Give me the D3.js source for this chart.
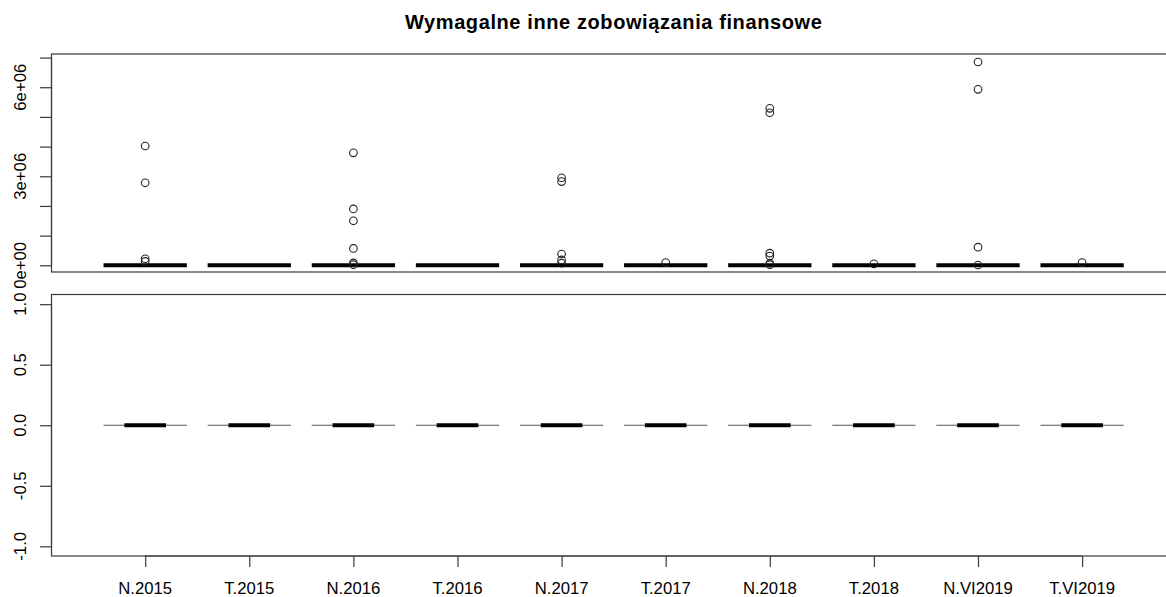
<!DOCTYPE html>
<html>
<head>
<meta charset="utf-8">
<script src="https://cdn.jsdelivr.net/npm/d3@7"></script>
<style>
  html, body { margin: 0; padding: 0; background: #fff; }
  svg { display: block; font-family: "Liberation Sans", Arial, sans-serif; }
</style>
</head>
<body>
<svg id="chart" width="1166" height="597"></svg>
<script>
// Categories (period labels)
const categories = ["N.2015", "T.2015", "N.2016", "T.2016", "N.2017",
                    "T.2017", "N.2018", "T.2018", "N.VI2019", "T.VI2019"];

// Upper panel: box statistics per category (quartiles and whiskers all at zero)
const topQ1 = [0, 0, 0, 0, 0, 0, 0, 0, 0, 0];
const topMedian = [0, 0, 0, 0, 0, 0, 0, 0, 0, 0];
const topQ3 = [0, 0, 0, 0, 0, 0, 0, 0, 0, 0];

// Upper panel: outlying observations per category
const topOutliers = [
  [4020000, 2780000, 220000, 130000],
  [],
  [3790000, 1900000, 1500000, 570000, 80000, 20000],
  [],
  [2950000, 2820000, 380000, 180000, 70000],
  [90000],
  [5290000, 5140000, 410000, 310000, 70000, 20000],
  [50000],
  [6850000, 5930000, 610000, 10000],
  [90000]
];

// Lower panel: every category is constant zero
const bottomMedian = [0, 0, 0, 0, 0, 0, 0, 0, 0, 0];

// Axis ticks
const topTicks = [0, 1e6, 2e6, 3e6, 4e6, 5e6, 6e6, 7e6];
const topTickLabels = { 0: "0e+00", 3e6: "3e+06", 6e6: "6e+06" };
const bottomTicks = [-1.0, -0.5, 0.0, 0.5, 1.0];
const bottomTickLabels = ["-1.0", "-0.5", "0.0", "0.5", "1.0"];

const title = "Wymagalne inne zobowiązania finansowe";

const svg = d3.select("#chart");
const fontSize = 16.7;

// Shared horizontal scale (category index 1..10, padded like base R)
const x = d3.scaleLinear().domain([0.1, 10.9]).range([51.5, 1175.8]);
const unit = x(2) - x(1);
const boxW = 0.8 * unit;

const topPanel = { top: 54, bottom: 272, left: 51.5, right: 1175.8 };
const botPanel = { top: 294.5, bottom: 556, left: 51.5, right: 1175.8 };

const yTop = d3.scaleLinear().domain([-0.226e6, 7.12e6]).range([topPanel.bottom, topPanel.top]);
const yBot = d3.scaleLinear().domain([-1.08, 1.08]).range([botPanel.bottom, botPanel.top]);

// Title
svg.append("text")
  .attr("x", (topPanel.left + topPanel.right) / 2)
  .attr("y", 29)
  .attr("text-anchor", "middle")
  .attr("font-weight", "bold")
  .attr("font-size", 20)
  .attr("letter-spacing", 0.6)
  .attr("fill", "#000")
  .text(title);

function panelFrame(p) {
  svg.append("rect")
    .attr("x", p.left).attr("y", p.top)
    .attr("width", p.right - p.left).attr("height", p.bottom - p.top)
    .attr("fill", "none").attr("stroke", "#3a3a3a").attr("stroke-width", 1.2);
}

function leftAxis(scale, ticks, labelFor) {
  const g = svg.append("g").attr("transform", `translate(${topPanel.left},0)`);
  const ax = d3.axisLeft(scale).tickValues(ticks).tickSize(11.5).tickPadding(0).tickFormat(() => "");
  g.call(ax);
  g.select(".domain").attr("stroke", "#3a3a3a").attr("stroke-width", 1.2)
    .attr("d", `M0,${scale(ticks[0])}V${scale(ticks[ticks.length - 1])}`);
  g.selectAll(".tick line").attr("stroke", "#3a3a3a").attr("stroke-width", 1.2);
  ticks.forEach((t, i) => {
    const lab = labelFor(t, i);
    if (!lab) return;
    svg.append("text")
      .attr("transform", `translate(26,${scale(t)}) rotate(-90)`)
      .attr("text-anchor", "middle")
      .attr("font-size", fontSize)
      .attr("fill", "#000")
      .text(lab);
  });
}

// Frames and axes
panelFrame(topPanel);
panelFrame(botPanel);
leftAxis(yTop, topTicks, t => topTickLabels[t]);
leftAxis(yBot, bottomTicks, (t, i) => bottomTickLabels[i]);

// Bottom category axis
const xAxisG = svg.append("g").attr("transform", `translate(0,${botPanel.bottom})`);
xAxisG.call(d3.axisBottom(x).tickValues(d3.range(1, categories.length + 1))
  .tickSize(11).tickFormat(() => ""));
xAxisG.select(".domain").attr("stroke", "#3a3a3a").attr("stroke-width", 1.2)
  .attr("d", `M${x(1)},0H${x(categories.length)}`);
xAxisG.selectAll(".tick line").attr("stroke", "#3a3a3a").attr("stroke-width", 1.2);
categories.forEach((c, i) => {
  svg.append("text")
    .attr("x", x(i + 1)).attr("y", 594)
    .attr("text-anchor", "middle")
    .attr("font-size", fontSize)
    .attr("fill", "#000")
    .text(c);
});

// Upper panel boxes
const topG = svg.append("g");
categories.forEach((c, i) => {
  const cx = x(i + 1);
  topG.append("rect")
    .attr("x", cx - boxW / 2).attr("y", yTop(topQ3[i]))
    .attr("width", boxW).attr("height", Math.max(0, yTop(topQ1[i]) - yTop(topQ3[i])))
    .attr("fill", "none").attr("stroke", "#333").attr("stroke-width", 1);
  topG.append("line")
    .attr("x1", cx - boxW / 2).attr("x2", cx + boxW / 2)
    .attr("y1", yTop(topMedian[i])).attr("y2", yTop(topMedian[i]))
    .attr("stroke", "#000").attr("stroke-width", 4);
  topG.selectAll(null).data(topOutliers[i]).enter().append("circle")
    .attr("cx", cx).attr("cy", d => yTop(d)).attr("r", 3.8)
    .attr("fill", "none").attr("stroke", "#222").attr("stroke-width", 1.1);
});

// Lower panel boxes (collapsed at zero)
const botG = svg.append("g");
categories.forEach((c, i) => {
  const cx = x(i + 1);
  const y0 = yBot(bottomMedian[i]);
  botG.append("line")
    .attr("x1", cx - boxW / 2).attr("x2", cx + boxW / 2)
    .attr("y1", y0).attr("y2", y0)
    .attr("stroke", "#555").attr("stroke-width", 1.2);
  botG.append("line")
    .attr("x1", cx - boxW / 4).attr("x2", cx + boxW / 4)
    .attr("y1", y0).attr("y2", y0)
    .attr("stroke", "#000").attr("stroke-width", 3.8);
});
</script>
</body>
</html>
